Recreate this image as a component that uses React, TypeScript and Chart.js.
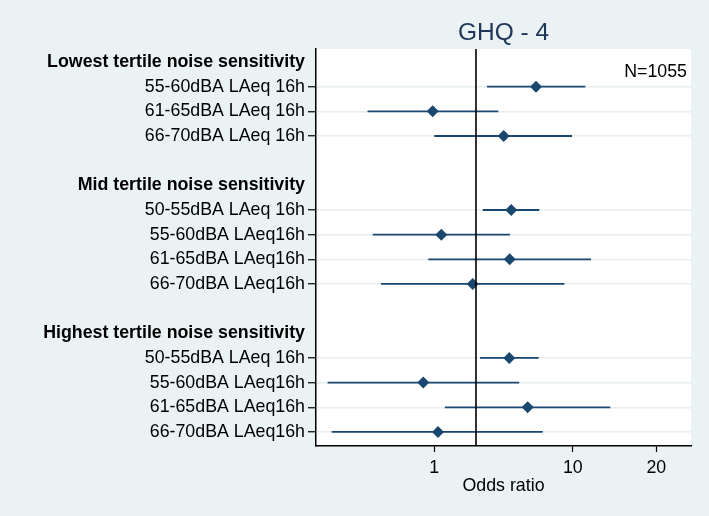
import React, { useEffect, useRef } from "react";
import { Chart, registerables } from "chart.js";

Chart.register(...registerables);

// ---- Data ----
const titleText = "GHQ - 4";
const annotationText = "N=1055";
const xAxisTitle = "Odds ratio";

const rowLabels = [
  "Lowest tertile noise sensitivity",
  "55-60dBA LAeq 16h",
  "61-65dBA LAeq 16h",
  "66-70dBA LAeq 16h",
  "",
  "Mid tertile noise sensitivity",
  "50-55dBA LAeq 16h",
  "55-60dBA LAeq16h",
  "61-65dBA LAeq16h",
  "66-70dBA LAeq16h",
  "",
  "Highest tertile noise sensitivity",
  "50-55dBA LAeq 16h",
  "55-60dBA LAeq16h",
  "61-65dBA LAeq16h",
  "66-70dBA LAeq16h",
];
const headerRows = [0, 5, 11];

const oddsRatio = [null, 2.71, 0.487, 1.585, null, null, 1.797, 0.562, 1.751, 0.947, null, null, 1.739, 0.417, 2.361, 0.532];
const ciLower = [null, 1.2, 0.165, 0.5, null, null, 1.118, 0.18, 0.453, 0.206, null, null, 1.069, 0.085, 0.597, 0.091];
const ciUpper = [null, 6.15, 1.448, 4.93, null, null, 2.862, 1.759, 6.76, 4.34, null, null, 2.835, 2.053, 9.31, 3.03];

const referenceValue = 1;
const xTickValues = [0.5, 5, 20];
const xTickLabels = ["1", "10", "20"];
const xMin = 0.0701;
const xMax = 35.6;
const yMin = -0.527;
const yMax = 15.57;

// ---- Styles ----
const NAVY = "#1a476f";
const BG = "#eaf2f3";
const GRID = "#e6eef0";
const FONT = "'Liberation Sans', Arial, Helvetica, sans-serif";
const FS = 17.8;

const isDataRow = (i: number) => rowLabels[i] !== "" && !headerRows.includes(i);

const bgPlugin = {
  id: "plotBg",
  beforeDraw(chart: any) {
    const { ctx, chartArea } = chart;
    ctx.save();
    ctx.fillStyle = "#ffffff";
    ctx.fillRect(chartArea.left, chartArea.top, chartArea.right - chartArea.left, chartArea.bottom - chartArea.top);
    ctx.restore();
  },
  afterDraw(chart: any) {
    const { ctx, chartArea } = chart;
    ctx.save();
    ctx.fillStyle = "#000000";
    ctx.font = `${FS}px ${FONT}`;
    ctx.textAlign = "right";
    ctx.textBaseline = "middle";
    ctx.fillText(annotationText, chartArea.right - 4, chartArea.top + 23);
    ctx.restore();
  },
};

export default function App() {
  const ref = useRef<HTMLCanvasElement | null>(null);

  useEffect(() => {
    if (!ref.current) return;

    const ciData: any[] = [];
    const pointData: any[] = [];
    rowLabels.forEach((_, i) => {
      if (oddsRatio[i] == null) return;
      ciData.push({ x: ciLower[i], y: i }, { x: ciUpper[i], y: i }, { x: null, y: null });
      pointData.push({ x: oddsRatio[i], y: i });
    });

    const chart = new Chart(ref.current, {
      type: "scatter",
      data: {
        datasets: [
          {
            data: [
              { x: referenceValue, y: yMin },
              { x: referenceValue, y: yMax },
            ],
            showLine: true,
            borderColor: "#000000",
            borderWidth: 1.6,
            pointRadius: 0,
          },
          {
            data: pointData,
            pointStyle: "rectRot",
            pointRadius: 6,
            backgroundColor: NAVY,
            borderWidth: 0,
            showLine: false,
          },
          {
            data: ciData,
            showLine: true,
            spanGaps: false,
            borderColor: NAVY,
            borderWidth: 1.8,
            pointRadius: 0,
          },
        ],
      } as any,
      options: {
        animation: false,
        responsive: false,
        maintainAspectRatio: false,
        layout: { padding: { top: 0, right: 18, bottom: 0, left: 0 } },
        plugins: {
          legend: { display: false },
          tooltip: { enabled: false },
          title: {
            display: true,
            text: titleText,
            color: "#1f3559",
            fullSize: false,
            font: { family: FONT, size: 24.5, weight: "normal" },
            padding: { top: 19, bottom: 0.6 },
          },
        },
        scales: {
          x: {
            type: "logarithmic",
            min: xMin,
            max: xMax,
            afterBuildTicks: (scale: any) => {
              scale.ticks = xTickValues.map((v) => ({ value: v }));
            },
            afterFit: (scale: any) => {
              scale.height = 70;
            },
            ticks: {
              autoSkip: false,
              maxRotation: 0,
              padding: 5,
              color: "#000000",
              font: { family: FONT, size: FS },
              callback: (_v: any, i: number) => xTickLabels[i],
            },
            grid: {
              drawOnChartArea: false,
              drawTicks: true,
              tickLength: 6,
              tickColor: "#000000",
              tickWidth: 1.2,
            },
            border: { display: true, color: "#000000", width: 1.5 },
            title: {
              display: true,
              text: xAxisTitle,
              color: "#000000",
              font: { family: FONT, size: FS },
              padding: { top: 0, bottom: 19.5 },
            },
          },
          y: {
            type: "linear",
            reverse: true,
            min: yMin,
            max: yMax,
            afterBuildTicks: (scale: any) => {
              scale.ticks = rowLabels.map((_, i) => ({ value: i }));
            },
            afterFit: (scale: any) => {
              scale.width = 316;
            },
            ticks: {
              autoSkip: false,
              padding: 3,
              color: "#000000",
              font: (ctx: any) =>
                headerRows.includes(ctx.index)
                  ? { family: FONT, size: FS, weight: "bold" }
                  : { family: FONT, size: FS, weight: "normal" },
              callback: (_v: any, i: number) => rowLabels[i],
            },
            grid: {
              drawTicks: true,
              tickLength: 8,
              lineWidth: 1.5,
              tickWidth: 1.2,
              color: (ctx: any) => (isDataRow(ctx.index) ? GRID : "rgba(0,0,0,0)"),
              tickColor: (ctx: any) => (isDataRow(ctx.index) ? "#000000" : "rgba(0,0,0,0)"),
            },
            border: { display: true, color: "#000000", width: 1.5 },
          },
        },
      } as any,
      plugins: [bgPlugin],
    });

    return () => chart.destroy();
  }, []);

  return (
    <div
      style={{
        position: "fixed",
        left: 0,
        top: 0,
        width: 709,
        height: 516,
        background: BG,
      }}
    >
      <canvas ref={ref} width={709} height={516} style={{ display: "block" }} />
    </div>
  );
}
